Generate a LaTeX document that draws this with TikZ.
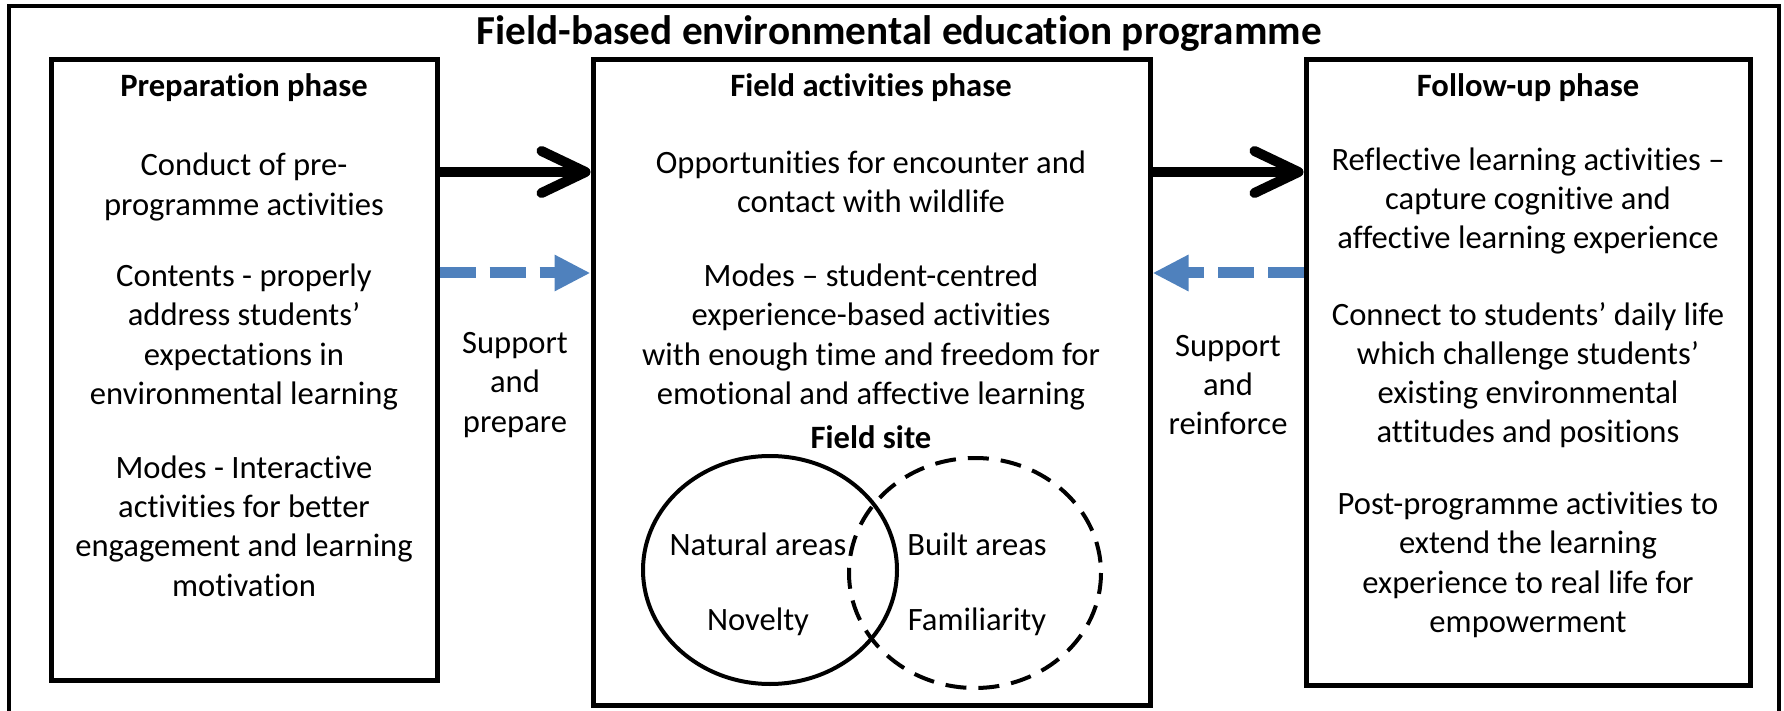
\documentclass[tikz,border=0pt]{standalone}
\usepackage{fontspec}
\setmainfont{Carlito}[Ligatures=NoCommon]
\usetikzlibrary{arrows.meta}
\definecolor{supportblue}{HTML}{4F81BD}

\begin{document}
\begin{tikzpicture}[x=0.5pt, y=-0.5pt]
        % Define styles
        \tikzset{
            phase/.style={rectangle, draw, line width=2.5pt},
            heading/.style={font=\fontsize{16.3}{19.6}\selectfont\bfseries},
            body/.style={align=center, font=\fontsize{16.3}{19.6}\selectfont},
            flow/.style={line width=5pt, -{Straight Barb[length=22pt, width=21pt, round]}},
            support/.style={supportblue, line width=5.5pt, dash pattern=on 18pt off 7pt, -{Triangle[length=18pt, width=17pt]}},
            ring/.style={line width=2pt}
        }
        \useasboundingbox (0,0) rectangle (1784,711);

        % Frame
        \draw[line width=1.6pt] (9,6) rectangle (1779,760);
        \node[font=\fontsize{20.6}{24}\selectfont\bfseries] (programme_title) at (899,34) {Field-based environmental education programme};

        % Boxes
        \node[phase, minimum width=193pt, minimum height=310pt] (prep_box) at (244,370) {};
        \node[phase, minimum width=278.5pt, minimum height=322.5pt] (field_box) at (871.5,382.5) {};
        \node[phase, minimum width=222pt, minimum height=312.5pt] (follow_box) at (1528,372.5) {};

        % Preparation phase
        \node[heading] (prep_head) at (244,88) {Preparation phase};
        \node[body] (prep_text_1) at (244,187) {Conduct of pre-\\programme activities};
        \node[body] (prep_text_2) at (244,337) {Contents - properly\\address students’\\expectations in\\environmental learning};
        \node[body] (prep_text_3) at (244,526) {Modes - Interactive\\activities for better\\engagement and learning\\motivation};

        % Field activities phase
        \node[heading] (field_head) at (871,88) {Field activities phase};
        \node[body] (field_text_1) at (871,182) {Opportunities for encounter and\\contact with wildlife};
        \node[body] (field_text_2) at (871,337) {Modes – student-centred\\experience-based activities\\with enough time and freedom for\\emotional and affective learning};
        \node[heading] (site_head) at (871,437) {Field site};
        \draw[ring] (770,570) ellipse [x radius=127, y radius=114];
        \draw[ring, dash pattern=on 10.5pt off 6pt] (975,573) ellipse [x radius=126, y radius=115];
        \node[body] (natural_label) at (758,544) {Natural areas};
        \node[body] (novelty_label) at (758,622) {Novelty};
        \node[body] (built_label) at (977,544) {Built areas};
        \node[body] (familiar_label) at (977,622) {Familiarity};

        % Follow-up phase
        \node[heading] (follow_head) at (1528,88) {Follow-up phase};
        \node[body] (follow_text_1) at (1528,201) {Reflective learning activities –\\capture cognitive and\\affective learning experience};
        \node[body] (follow_text_2) at (1528,375) {Connect to students’ daily life\\which challenge students’\\existing environmental\\attitudes and positions};
        \node[body] (follow_text_3) at (1528,565) {Post-programme activities to\\extend the learning\\experience to real life for\\empowerment};

        % Arrows
        \coordinate (flow_level) at (0,172);
        \coordinate (support_level) at (0,273);
        \draw[flow] (prep_box.east |- flow_level) -- (field_box.west |- flow_level);
        \draw[flow] (field_box.east |- flow_level) -- (follow_box.west |- flow_level);
        \draw[support] (prep_box.east |- support_level) -- (field_box.west |- support_level);
        \draw[support] (follow_box.west |- support_level) -- (field_box.east |- support_level);
        \node[body] (prepare_label) at (515,385) {Support\\and\\prepare};
        \node[body] (reinforce_label) at (1228,385) {Support\\and\\reinforce};
\end{tikzpicture}
\end{document}
